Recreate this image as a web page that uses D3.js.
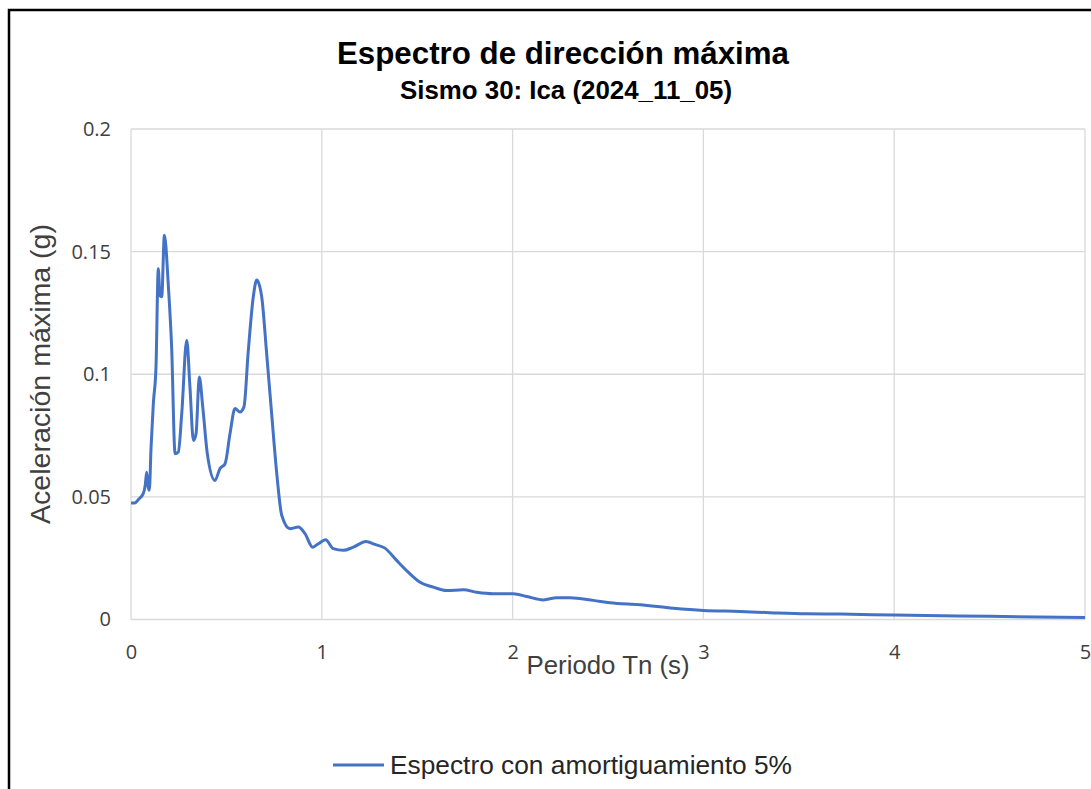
<!DOCTYPE html>
<html>
<head>
<meta charset="utf-8">
<script src="https://cdn.jsdelivr.net/npm/d3@7"></script>
<style>
  body { margin: 0; background: #fff; }
  svg { display: block; }
</style>
</head>
<body>
<script>
// periodo (s) y aceleracion maxima (g)
var periodos = [0, 0.02, 0.04, 0.064, 0.075, 0.082, 0.09, 0.096, 0.105, 0.117, 0.131, 0.143, 0.152, 0.161, 0.175,
    0.196, 0.213, 0.231, 0.248, 0.266, 0.292, 0.309, 0.327, 0.341, 0.358, 0.376, 0.400, 0.440, 0.466, 0.493,
    0.519, 0.545, 0.571, 0.592, 0.615, 0.641, 0.659, 0.685, 0.711, 0.737, 0.764, 0.79, 0.833, 0.877, 0.912,
    0.952, 0.982, 1.020, 1.060, 1.113, 1.165, 1.232, 1.279, 1.331, 1.392, 1.453, 1.515, 1.585, 1.655, 1.742,
    1.812, 1.899, 2.004, 2.074, 2.161, 2.231, 2.30, 2.423, 2.51, 2.668, 2.842, 3.0, 3.19, 3.37, 3.54, 3.72,
    4.0, 4.5, 5.0];
var aceleraciones = [0.0475, 0.0475, 0.049, 0.0513, 0.055, 0.060, 0.054, 0.0527, 0.07, 0.088, 0.103, 0.143, 0.132,
    0.1316, 0.1567, 0.1357, 0.111, 0.0676, 0.0683, 0.084, 0.1139, 0.0948, 0.073, 0.0758, 0.0989, 0.0867, 0.0676,
    0.0567, 0.0615, 0.0635, 0.0758, 0.086, 0.0846, 0.0867, 0.1098, 0.1316, 0.1384, 0.1316, 0.1084, 0.084, 0.0595,
    0.0425, 0.037, 0.0377, 0.035, 0.0295, 0.0309, 0.0325, 0.0289, 0.0282, 0.0295, 0.0318, 0.0306, 0.0291, 0.0241,
    0.0193, 0.0152, 0.0132, 0.0118, 0.0121, 0.0111, 0.0105, 0.0105, 0.0094, 0.008, 0.0089, 0.0089, 0.0078, 0.0068,
    0.006, 0.0046, 0.0037, 0.0033, 0.0027, 0.0023, 0.0022, 0.0018, 0.0013, 0.0008];
var xTicks = [0, 1, 2, 3, 4, 5];
var yTicks = [0, 0.05, 0.1, 0.15, 0.2];
var yTickLabels = ["0", "0.05", "0.1", "0.15", "0.2"];

var W = 1091, H = 789;
var plotLeft = 131, plotRight = 1085, plotTop = 129, plotBottom = 619.5;

var svg = d3.select("body").append("svg")
    .attr("width", W)
    .attr("height", H);

svg.append("rect").attr("width", W).attr("height", H).attr("fill", "#fff");

// marco negro (solo arriba e izquierda visibles)
svg.append("path")
    .attr("d", "M9,789 V10 H1091")
    .attr("fill", "none")
    .attr("stroke", "#000")
    .attr("stroke-width", 2.5);

var x = d3.scaleLinear().domain([0, 5]).range([plotLeft, plotRight]);
var y = d3.scaleLinear().domain([0, 0.2]).range([plotBottom, plotTop]);

// grid
svg.append("g")
    .selectAll("line")
    .data(xTicks)
    .join("line")
    .attr("x1", d => x(d)).attr("x2", d => x(d))
    .attr("y1", plotTop).attr("y2", plotBottom)
    .attr("stroke", "#d9d9d9")
    .attr("stroke-width", 1.3);

svg.append("g")
    .selectAll("line")
    .data(yTicks)
    .join("line")
    .attr("x1", plotLeft).attr("x2", plotRight)
    .attr("y1", d => y(d)).attr("y2", d => y(d))
    .attr("stroke", "#d9d9d9")
    .attr("stroke-width", 1.3);

// axes labels
var xAxis = d3.axisBottom(x).tickValues(xTicks).tickSize(0).tickPadding(25).tickFormat(d3.format("d"));
var gx = svg.append("g").attr("transform", `translate(0,${plotBottom})`).call(xAxis);
gx.select(".domain").remove();
gx.attr("font-size", null).attr("font-family", null);
gx.selectAll("text")
    .style("font-family", "'Open Sans', sans-serif")
    .style("font-size", "20px")
    .attr("fill", "#404040");

var yAxis = d3.axisLeft(y).tickValues(yTicks).tickSize(0).tickPadding(20)
    .tickFormat((d, i) => yTickLabels[i]);
var gy = svg.append("g").attr("transform", `translate(${plotLeft},0)`).call(yAxis);
gy.select(".domain").remove();
gy.attr("font-size", null).attr("font-family", null);
gy.selectAll("text")
    .style("font-family", "'Open Sans', sans-serif")
    .style("font-size", "20px")
    .attr("fill", "#404040");

// serie
var line = d3.line()
    .x((d, i) => x(periodos[i]))
    .y(d => y(d))
    .curve(d3.curveMonotoneX);

svg.append("path")
    .datum(aceleraciones)
    .attr("fill", "none")
    .attr("stroke", "#4472c4")
    .attr("stroke-width", 3)
    .attr("stroke-linejoin", "round")
    .attr("d", line);

// titulos
svg.append("text")
    .attr("x", 563).attr("y", 64)
    .attr("text-anchor", "middle")
    .attr("font-family", "'Liberation Sans Narrow', 'Liberation Sans', sans-serif")
    .attr("font-weight", "bold")
    .attr("font-size", 32)
    .attr("textLength", 452)
    .attr("lengthAdjust", "spacingAndGlyphs")
    .attr("fill", "#000")
    .text("Espectro de dirección máxima");

svg.append("text")
    .attr("x", 566).attr("y", 99)
    .attr("text-anchor", "middle")
    .attr("font-family", "'Liberation Sans Narrow', 'Liberation Sans', sans-serif")
    .attr("font-weight", "bold")
    .attr("font-size", 25)
    .attr("textLength", 332)
    .attr("lengthAdjust", "spacingAndGlyphs")
    .attr("fill", "#000")
    .text("Sismo 30: Ica (2024_11_05)");

svg.append("text")
    .attr("transform", "translate(50,374) rotate(-90)")
    .attr("text-anchor", "middle")
    .attr("font-family", "'Liberation Sans', Arial, sans-serif")
    .attr("font-size", 27)
    .attr("textLength", 300)
    .attr("lengthAdjust", "spacingAndGlyphs")
    .attr("fill", "#404040")
    .text("Aceleración máxima (g)");

svg.append("text")
    .attr("x", 608).attr("y", 674)
    .attr("text-anchor", "middle")
    .attr("font-family", "'Liberation Sans', Arial, sans-serif")
    .attr("font-size", 25)
    .attr("textLength", 163)
    .attr("lengthAdjust", "spacingAndGlyphs")
    .attr("fill", "#404040")
    .text("Periodo Tn (s)");

// leyenda
svg.append("line")
    .attr("x1", 333).attr("x2", 384)
    .attr("y1", 765).attr("y2", 765)
    .attr("stroke", "#4472c4")
    .attr("stroke-width", 3);

svg.append("text")
    .attr("x", 390).attr("y", 774)
    .attr("font-family", "'Liberation Sans', Arial, sans-serif")
    .attr("font-size", 25)
    .attr("textLength", 402)
    .attr("lengthAdjust", "spacingAndGlyphs")
    .attr("fill", "#262626")
    .text("Espectro con amortiguamiento 5%");
</script>
</body>
</html>
